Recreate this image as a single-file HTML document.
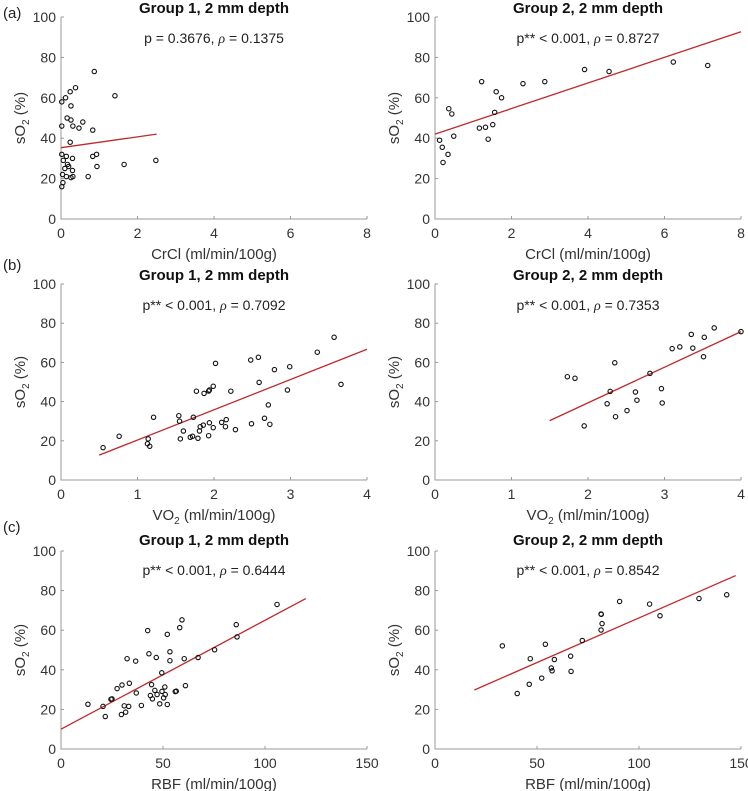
<!DOCTYPE html>
<html><head><meta charset="utf-8"><style>
body{margin:0;background:#fff}
svg{display:block;font-family:"Liberation Sans",sans-serif}
</style></head><body>
<svg id="c" width="748" height="791" viewBox="0 0 748 791"></svg>
<script>
const aX=[0.87,0.38,0.24,0.12,0.02,1.41,0.26,0.16,0.26,0.57,0.31,0.47,0.02,0.83,0.24,2.48,1.65,0.93,0.83,0.94,0.71,0.3,0.02,0.14,0.06,0.17,0.1,0.3,0.04,0.14,0.31,0.26,0.05,0.02,0.2];
const aY=[73,65,63,60,58,61,56,50,49,48,46,45,46,44,38,29,27,32,31,26,21,30,32,31,29,27,25,24,22,21,21,20.5,18,16,26];
const bX=[0.12,0.19,0.21,0.34,0.36,0.44,0.49,1.22,1.16,1.32,1.39,1.51,1.56,1.6,1.74,2.3,2.87,3.91,4.55,6.23,7.13];
const bY=[39,35.5,28,32,54.6,52,41,68,45,45.4,39.5,46.7,52.8,63,60,67,68,74,73,77.7,76];
const cX=[0.55,0.76,1.14,1.13,1.16,1.21,1.54,1.55,1.6,1.56,1.69,1.72,1.73,1.79,1.81,1.82,1.86,1.77,1.87,1.93,1.94,1.99,2.02,1.93,1.94,1.99,2.1,2.15,2.16,2.22,2.28,2.48,2.58,2.49,2.59,2.66,2.71,2.73,2.79,2.96,2.99,3.35,3.57,3.66];
const cY=[16.5,22.3,21,18.5,17.2,32,32.8,30,25,21,21.8,22.3,32,21.3,25,27.2,28,45.3,44.2,45.4,45.9,47.8,59.5,22.6,29.2,26.7,29.4,27.2,30.8,45.3,25.7,61.2,62.6,28.7,49.8,31.5,38.3,28.4,56.3,45.9,57.8,65.2,72.8,48.8];
const dX=[1.73,1.83,1.95,2.35,2.29,2.25,2.36,2.51,2.62,2.64,2.81,2.96,2.97,3.1,3.2,3.35,3.37,3.52,3.51,3.65,4.0];
const dY=[52.7,51.9,27.6,59.8,45.2,38.9,32.3,35.4,44.9,40.7,54.4,46.6,39.3,67,67.9,74.3,67.3,72.8,62.9,77.6,75.7];
const eX=[13.2,20.6,21.7,24.5,25,27.5,29.9,33.5,31,33.2,29.6,31.7,32.4,36.6,36.9,39.4,42.5,43.1,44.4,46.7,43.8,44.8,46,47.1,48.4,49.4,49.5,50.3,50.9,51.1,52.1,52.1,53.4,53.4,56,56.5,58.2,59.3,60.4,61,67.2,75.3,85.9,86.3,105.9];
const eY=[22.6,21.5,16.4,25.1,25.3,30.5,32.3,33.2,21.8,21.5,17.4,18.6,45.6,44.4,28.3,22,59.8,48.1,32.5,46.2,27,25.3,29.6,27.5,22.8,38.5,29.1,25.8,31.3,27.5,22.5,57.9,49.1,44.6,29,29.2,61.3,65.2,45.6,32,46.2,50.1,62.8,56.6,73];
const fX=[33,40.3,46.7,46.2,52.3,54.1,58.5,57,57.4,66.5,66.7,72.2,81.4,81.5,81.9,81.4,90.5,105.2,110.3,129.4,143];
const fY=[52.1,28,45.6,32.7,35.8,52.9,45.2,40.9,39.5,46.9,39.2,54.8,68.2,68,63.3,60.1,74.5,73.2,67.3,76,77.9];
const fitA=[0,35.3,2.5,42], fitB=[0,42,8,92.7], fitC=[0.5,12.7,4,66.7], fitD=[1.5,30.3,4,75.7], fitE=[0,10,120,76], fitF=[19.3,29.8,147.4,87.6];
const xTicksA=[0,2,4,6,8], xTicksB=[0,1,2,3,4], xTicksC=[0,50,100,150], yTicks=[0,20,40,60,80,100];
const stats=["p = 0.3676, ","p** < 0.001, ","p** < 0.001, ","p** < 0.001, ","p** < 0.001, ","p** < 0.001, "];
const rhos=["0.1375","0.8727","0.7092","0.7353","0.6444","0.8542"];

const svg=document.getElementById('c');const NS='http://www.w3.org/2000/svg';
function mk(t,a,p){const e=document.createElementNS(NS,t);for(const k in a)e.setAttribute(k,a[k]);(p||svg).appendChild(e);return e;}
const rows=[{t:17,b:219,ttl:8},{t:284,b:480,ttl:275},{t:551,b:749,ttl:540}];
const cols=[61,435];const W=306;
const panels=[
 {r:0,c:0,xs:aX,ys:aY,xt:xTicksA,xmax:8,fit:fitA,g:"Group 1",xl:"CrCl (ml/min/100g)"},
 {r:0,c:1,xs:bX,ys:bY,xt:xTicksA,xmax:8,fit:fitB,g:"Group 2",xl:"CrCl (ml/min/100g)"},
 {r:1,c:0,xs:cX,ys:cY,xt:xTicksB,xmax:4,fit:fitC,g:"Group 1",xl:"VO2"},
 {r:1,c:1,xs:dX,ys:dY,xt:xTicksB,xmax:4,fit:fitD,g:"Group 2",xl:"VO2"},
 {r:2,c:0,xs:eX,ys:eY,xt:xTicksC,xmax:150,fit:fitE,g:"Group 1",xl:"RBF (ml/min/100g)"},
 {r:2,c:1,xs:fX,ys:fY,xt:xTicksC,xmax:150,fit:fitF,g:"Group 2",xl:"RBF (ml/min/100g)"}];
["(a)","(b)","(c)"].forEach((s,i)=>{const t=mk('text',{x:3,y:[18,270,532][i],'font-size':15,fill:'#222'});t.textContent=s;

});
panels.forEach((p,i)=>{
 const R=rows[p.r],L=cols[p.c];
 const g=mk('g',{});
 
 
 const sx=v=>L+v/p.xmax*W, sy=v=>R.b-v/100*(R.b-R.t);
 const ax=mk('path',{d:`M${L},${R.t}V${R.b}H${L+W}`,stroke:'#999',fill:'none','stroke-width':1},g);
 
 
 yTicks.forEach(v=>{mk('line',{x1:L,x2:L+3,y1:sy(v),y2:sy(v),stroke:'#999'},g);
  const t=mk('text',{x:L-5,y:sy(v)+5,'text-anchor':'end','font-size':14,fill:'#333'},g);t.textContent=v;
  
  });
 p.xt.forEach(v=>{mk('line',{x1:sx(v),x2:sx(v),y1:R.b,y2:R.b-3,stroke:'#999'},g);
  const t=mk('text',{x:sx(v),y:R.b+19,'text-anchor':'middle','font-size':14,fill:'#333'},g);t.textContent=v;
  
  });
 const xl=mk('text',{x:L+W/2,y:R.b+40,'text-anchor':'middle','font-size':15,fill:'#333'},g);
 if(p.xl==="VO2"){xl.innerHTML='VO<tspan font-size="10" dy="4">2</tspan><tspan dy="-4"> (ml/min/100g)</tspan>';}else xl.textContent=p.xl;
 
 
 const cy=(R.t+R.b)/2,cx=L-36;
 const yl=mk('text',{x:cx,y:cy,'text-anchor':'middle','font-size':15,fill:'#333',transform:`rotate(-90 ${cx} ${cy})`},g);
 yl.innerHTML='sO<tspan font-size="10" dy="4">2</tspan><tspan dy="-4"> (%)</tspan>';
 
 
 const ti=mk('text',{x:L+W/2,y:R.ttl+5,'text-anchor':'middle','font-size':15,'font-weight':'bold',fill:'#111'},g);
 ti.textContent=p.g+", 2 mm depth";
 
 
 const st=mk('text',{x:L+W/2,y:R.ttl+35,'text-anchor':'middle','font-size':14,fill:'#222'},g);
 st.innerHTML=stats[i]+'<tspan font-style="italic" font-family="Liberation Serif">ρ</tspan> = '+rhos[i];
 
 
 const f=p.fit;
 const ln=mk('line',{x1:sx(f[0]),y1:sy(f[1]),x2:sx(f[2]),y2:sy(f[3]),stroke:'#c0282c','stroke-width':1.3},g);
 
 
 p.xs.forEach((x,j)=>{const c=mk('circle',{cx:sx(x),cy:sy(p.ys[j]),r:2.2,fill:'none',stroke:'#111','stroke-width':1.1},g);
  
  });
});
</script>
</body></html>
